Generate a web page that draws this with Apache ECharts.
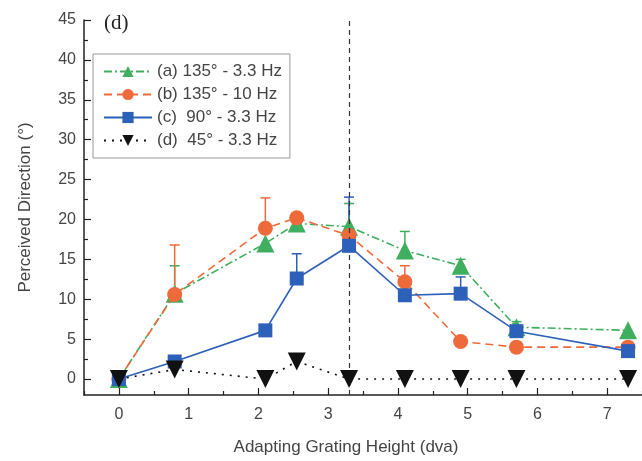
<!DOCTYPE html>
<html>
<head>
<meta charset="utf-8">
<script src="https://cdn.jsdelivr.net/npm/echarts@6/dist/echarts.min.js"></script>
<style>html,body{margin:0;padding:0;background:#fff}#c{width:642px;height:461px}</style>
</head>
<body>
<div id="c"></div>
<script>
var xs = [0, 0.8, 2.1, 2.55, 3.3, 4.1, 4.9, 5.7, 7.3];
var seriesNames = ['(a) 135° - 3.3 Hz', '(b) 135° - 10 Hz', '(c)  90° - 3.3 Hz', '(d)  45° - 3.3 Hz'];
var valsA = [0, 10.7, 17.0, 19.5, 19.1, 16.1, 14.2, 6.5, 6.1];
var valsB = [0, 10.6, 18.9, 20.2, 18.0, 12.2, 4.7, 4.0, 4.0];
var valsC = [0, 2.2, 6.1, 12.6, 16.7, 10.5, 10.7, 6.0, 3.5];
var valsD = [0, 1.2, 0, 2.2, 0, 0, 0, 0, 0];
var errTopA = [null, 14.2, null, null, 22.0, 18.5, 15.0, 7.2, null];
var errTopB = [null, 16.8, 22.7, null, null, 14.2, null, null, null];
var errTopC = [null, null, null, 15.7, 22.8, null, 12.8, null, null];
var errTopD = [null, null, null, 3.0, null, null, null, null, null];
var xMajorTicks = [0, 1, 2, 3, 4, 5, 6, 7];
var xMinorTicks = [-0.5, 0.5, 1.5, 2.5, 3.5, 4.5, 5.5, 6.5, 7.5];
var yMajorTicks = [0, 5, 10, 15, 20, 25, 30, 35, 40, 45];
var yMinorTicks = [2.5, 7.5, 12.5, 17.5, 22.5, 27.5, 32.5, 37.5, 42.5];
var refLineX = 3.3;

var colors = ['#3fae5e', '#ee6a3a', '#2d60b8', '#111111'];
var allVals = [valsA, valsB, valsC, valsD];
var allErr = [errTopA, errTopB, errTopC, errTopD];
var symbols = ['triangle', 'circle', 'rect', 'triangle'];
var symbolSizes = [18, 15, 14, 18];
var rotates = [0, 0, 0, 180];
var dashTypes = [[8, 3, 2, 3], [8, 5], 'solid', [2, 6]];

function pairs(v) { return xs.map(function (x, i) { return [x, v[i]]; }); }
function errPairs(v, e) {
  var out = [];
  xs.forEach(function (x, i) { if (e[i] != null) out.push([x, v[i], e[i]]); });
  return out;
}

var font = "'Liberation Sans', Arial, sans-serif";
var series = [];
for (var k = 0; k < 4; k++) {
  (function (k) {
    series.push({
      type: 'custom',
      name: 'err' + k,
      data: errPairs(allVals[k], allErr[k]),
      z: 1,
      silent: true,
      renderItem: function (params, api) {
        var p0 = api.coord([api.value(0), api.value(1)]);
        var p1 = api.coord([api.value(0), api.value(2)]);
        return {
          type: 'group',
          children: [
            { type: 'line', shape: { x1: p0[0], y1: p0[1], x2: p1[0], y2: p1[1] }, style: { stroke: colors[k], lineWidth: 1.5 } },
            { type: 'line', shape: { x1: p1[0] - 5, y1: p1[1], x2: p1[0] + 5, y2: p1[1] }, style: { stroke: colors[k], lineWidth: 1.5 } }
          ]
        };
      }
    });
    var s = {
      type: 'line',
      name: seriesNames[k],
      data: pairs(allVals[k]),
      z: 3 + k,
      symbol: symbols[k],
      symbolSize: symbolSizes[k],
      symbolRotate: rotates[k],
      itemStyle: { color: colors[k], opacity: 1 },
      lineStyle: { color: colors[k], width: 1.6, type: dashTypes[k] },
      showAllSymbol: true,
      animation: false
    };
    if (k === 3) {
      s.markLine = {
        silent: true,
        symbol: 'none',
        label: { show: false },
        lineStyle: { color: '#333', type: [5, 4], width: 1.2 },
        data: [{ xAxis: refLineX }]
      };
    }
    series.push(s);
  })(k);
}

var chart = echarts.init(document.getElementById('c'), null, { renderer: 'canvas' });
chart.setOption({
  animation: false,
  backgroundColor: '#fff',
  textStyle: { fontFamily: font },
  title: {
    text: '(d)', left: 99, top: 8,
    textStyle: { fontFamily: "'Liberation Serif', 'Times New Roman', serif", fontSize: 21, fontWeight: 'normal', color: '#222' }
  },
  legend: {
    data: seriesNames,
    orient: 'vertical',
    left: 93, top: 54,
    padding: [9, 8, 9, 10],
    itemGap: 6,
    itemWidth: 48,
    itemHeight: 14,
    borderColor: '#999', borderWidth: 1,
    textStyle: { fontFamily: font, fontSize: 17, color: '#444' }
  },
  grid: { left: 84, right: 0, top: 20, bottom: 64 },
  xAxis: [{
    type: 'value', min: -0.5, max: 7.5,
    name: 'Adapting Grating Height (dva)', nameLocation: 'middle', nameGap: 44,
    nameTextStyle: { fontSize: 17, color: '#444', padding: [0, 34, 0, 0] },
    axisLine: { onZero: false, lineStyle: { color: '#222', width: 1.5 } },
    axisTick: { inside: true, length: 7, customValues: xMajorTicks, lineStyle: { color: '#222', width: 1.2 } },
    axisLabel: { customValues: xMajorTicks, fontSize: 16, color: '#444', margin: 12 },
    splitLine: { show: false }
  }, {
    type: 'value', min: -0.5, max: 7.5, position: 'bottom',
    axisLine: { show: false, onZero: false },
    axisTick: { inside: true, length: 4, customValues: xMinorTicks, lineStyle: { color: '#222', width: 1.2 } },
    axisLabel: { show: false },
    splitLine: { show: false }
  }],
  yAxis: [{
    type: 'value', min: -2, max: 45,
    name: 'Perceived Direction (°)', nameLocation: 'middle', nameGap: 50,
    nameTextStyle: { fontSize: 17, color: '#444' },
    axisLine: { onZero: false, lineStyle: { color: '#222', width: 1.5 } },
    axisTick: { inside: true, length: 7, customValues: yMajorTicks, lineStyle: { color: '#222', width: 1.2 } },
    axisLabel: { customValues: yMajorTicks, fontSize: 16, color: '#444', margin: 8 },
    splitLine: { show: false }
  }, {
    type: 'value', min: -2, max: 45, position: 'left',
    axisLine: { show: false, onZero: false },
    axisTick: { inside: true, length: 4, customValues: yMinorTicks, lineStyle: { color: '#222', width: 1.2 } },
    axisLabel: { show: false },
    splitLine: { show: false }
  }],
  series: series
});
</script>
</body>
</html>
